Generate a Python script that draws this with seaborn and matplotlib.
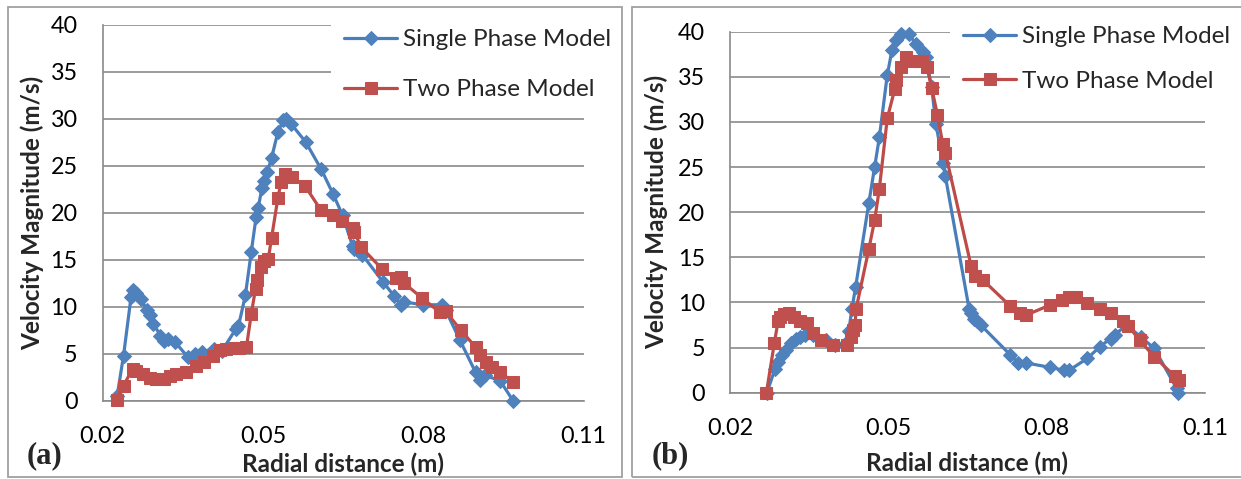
import numpy as np
import pandas as pd
import matplotlib
matplotlib.use("Agg")
import matplotlib.pyplot as plt
from matplotlib.patches import Rectangle
import seaborn as sns

# ---------------- data ----------------
a_single_x = [0.0227, 0.0239, 0.0253, 0.0257, 0.0262, 0.0272, 0.0283, 0.0288, 0.0295, 0.0308,
              0.0315, 0.0322, 0.0336, 0.0360, 0.0373, 0.0386, 0.0408, 0.0423, 0.0449, 0.0454,
              0.0467, 0.0478, 0.0487, 0.0491, 0.0498, 0.0502, 0.0508, 0.0516, 0.0528, 0.0538,
              0.0543, 0.0553, 0.0580, 0.0609, 0.0631, 0.0649, 0.0668, 0.0670, 0.0686, 0.0725,
              0.0746, 0.0758, 0.0764, 0.0799, 0.0835, 0.0842, 0.0868, 0.0898, 0.0907, 0.0916,
              0.0944, 0.0968]
a_single_y = [0.5, 4.8, 11.0, 11.8, 11.5, 10.8, 9.6, 9.1, 8.2, 6.9,
              6.4, 6.6, 6.2, 4.6, 5.0, 5.2, 5.5, 5.3, 7.6, 7.9,
              11.2, 15.8, 19.5, 20.5, 22.6, 23.4, 24.3, 25.8, 28.6, 29.8,
              30.0, 29.4, 27.5, 24.6, 22.0, 19.7, 16.4, 16.1, 15.5, 12.6,
              11.1, 10.2, 10.5, 10.2, 10.2, 9.6, 6.5, 3.0, 2.2, 2.7,
              2.1, 0.0]
a_two_x = [0.0227, 0.0239, 0.0256, 0.0263, 0.0276, 0.0288, 0.0300, 0.0314, 0.0326, 0.0337,
           0.0356, 0.0374, 0.0389, 0.0406, 0.0419, 0.0430, 0.0447, 0.0456, 0.0469, 0.0478,
           0.0486, 0.0489, 0.0497, 0.0502, 0.0510, 0.0516, 0.0528, 0.0534, 0.0542, 0.0554,
           0.0579, 0.0608, 0.0631, 0.0647, 0.0668, 0.0671, 0.0684, 0.0723, 0.0749, 0.0758,
           0.0764, 0.0798, 0.0831, 0.0842, 0.0870, 0.0898, 0.0907, 0.0917, 0.0928, 0.0944,
           0.0968]
a_two_y = [0.1, 1.6, 3.4, 3.2, 2.8, 2.4, 2.3, 2.3, 2.6, 2.8,
           3.1, 3.7, 4.1, 4.7, 5.4, 5.5, 5.6, 5.6, 5.7, 9.2,
           11.9, 12.8, 14.2, 14.9, 15.1, 17.3, 21.6, 23.3, 24.1, 23.8,
           22.8, 20.3, 19.7, 19.1, 18.4, 17.9, 16.3, 14.0, 13.0, 13.1,
           12.5, 10.9, 9.4, 9.5, 7.5, 5.7, 4.9, 4.1, 3.6, 3.0,
           2.0]

b_single_x = [0.0270, 0.0285, 0.0291, 0.0299, 0.0306, 0.0315, 0.0325, 0.0332, 0.0343, 0.0358,
              0.0381, 0.0399, 0.0419, 0.0425, 0.0431, 0.0438, 0.0463, 0.0474, 0.0483, 0.0498,
              0.0507, 0.0515, 0.0524, 0.0540, 0.0552, 0.0566, 0.0571, 0.0582, 0.0590, 0.0604,
              0.0608, 0.0653, 0.0657, 0.0662, 0.0668, 0.0675, 0.0731, 0.0746, 0.0761, 0.0807,
              0.0832, 0.0843, 0.0877, 0.0901, 0.0921, 0.0929, 0.0951, 0.0978, 0.1004, 0.1046,
              0.1048]
b_single_y = [0.0, 2.6, 3.4, 4.2, 4.7, 5.5, 6.0, 6.2, 6.4, 6.4,
              5.8, 5.3, 5.5, 6.8, 9.3, 11.7, 21.0, 25.0, 28.3, 35.2,
              38.0, 39.1, 39.8, 39.7, 38.6, 37.7, 37.2, 33.9, 29.8, 25.4,
              24.0, 9.3, 8.8, 8.2, 7.9, 7.5, 4.2, 3.3, 3.3, 2.8,
              2.5, 2.5, 3.8, 5.1, 6.0, 6.4, 7.5, 6.2, 4.9, 0.5,
              0.0]
b_two_x = [0.0269, 0.0284, 0.0291, 0.0295, 0.0302, 0.0312, 0.0321, 0.0332, 0.0345, 0.0358,
           0.0373, 0.0396, 0.0422, 0.0430, 0.0433, 0.0437, 0.0439, 0.0463, 0.0474, 0.0483,
           0.0498, 0.0512, 0.0515, 0.0524, 0.0534, 0.0549, 0.0563, 0.0573, 0.0582, 0.0593,
           0.0603, 0.0608, 0.0657, 0.0664, 0.0679, 0.0731, 0.0750, 0.0761, 0.0806, 0.0829,
           0.0843, 0.0855, 0.0877, 0.0901, 0.0921, 0.0944, 0.0955, 0.0976, 0.1004, 0.1043,
           0.1051]
b_two_y = [0.0, 5.5, 7.9, 8.4, 8.7, 8.8, 8.4, 8.0, 7.7, 6.6,
           5.8, 5.3, 5.3, 6.2, 6.9, 7.5, 9.3, 15.9, 19.1, 22.6,
           30.4, 33.6, 34.6, 36.1, 37.2, 36.8, 36.7, 36.1, 33.8, 30.8,
           27.6, 26.6, 14.0, 12.9, 12.5, 9.6, 8.8, 8.6, 9.7, 10.3,
           10.6, 10.6, 9.9, 9.3, 8.8, 8.0, 7.4, 5.8, 4.0, 1.8,
           1.4]

series_names = ["Single Phase Model", "Two Phase Model"]
x_ticks = [0.02, 0.05, 0.08, 0.11]
x_ticklabels = ["0.02", "0.05", "0.08", "0.11"]
y_ticks = [0, 5, 10, 15, 20, 25, 30, 35, 40]
x_title = "Radial distance (m)"
y_title = "Velocity Magnitude (m/s)"
panel_labels = ["(a)", "(b)"]

# ---------------- style ----------------
sns.set_style("white")
plt.rcParams["font.family"] = ["Lato", "DejaVu Sans"]

W, H = 1241, 479
fig = plt.figure(figsize=(W / 100, H / 100), dpi=100)

GRID = "#8a8a8a"
BLUE_L, BLUE_M = "#4A7EBB", "#4F81BD"
RED_L, RED_M = "#BE4B48", "#C0504D"
LEG_FS = 17.5

def px_rect(x0, y0_top, x1, y1_top):
    return [x0 / W, 1 - y1_top / H, (x1 - x0) / W, (y1_top - y0_top) / H]

# panel frames
fig.add_artist(Rectangle((8 / W, 2 / H), 614 / W, 470 / H, transform=fig.transFigure,
                         fill=False, edgecolor="#a0a0a0", lw=1.3))
fig.add_artist(Rectangle((632 / W, 2 / H), 640 / W, 470 / H, transform=fig.transFigure,
                         fill=False, edgecolor="#a0a0a0", lw=1.3))

axes_specs = [
    dict(rect=px_rect(102.7, 24.5, 583.6, 400.7), data=(a_single_x, a_single_y, a_two_x, a_two_y),
         leg=(331, 16, 1.18), ylab_x=-0.122, xlab_y=-0.138, panel=(45, 456)),
    dict(rect=px_rect(730, 31.7, 1205, 392.7), data=(b_single_x, b_single_y, b_two_x, b_two_y),
         leg=(950, 12.7, 0.98), ylab_x=-0.13, xlab_y=-0.162, panel=(670, 456)),
]

for i, spec in enumerate(axes_specs):
    ax = fig.add_axes(spec["rect"])
    sx, sy, tx, ty = spec["data"]
    df_s = pd.DataFrame({"x": sx, "y": sy})
    df_t = pd.DataFrame({"x": tx, "y": ty})
    sns.lineplot(data=df_s, x="x", y="y", ax=ax, sort=False, estimator=None,
                 color=BLUE_L, lw=2.3, marker="D", markersize=7.2,
                 markerfacecolor=BLUE_M, markeredgecolor=BLUE_M,
                 label=series_names[0], clip_on=False, zorder=3)
    sns.lineplot(data=df_t, x="x", y="y", ax=ax, sort=False, estimator=None,
                 color=RED_L, lw=2.3, marker="s", markersize=8.6,
                 markerfacecolor=RED_M, markeredgecolor=RED_M,
                 label=series_names[1], clip_on=False, zorder=4)

    ax.set_xlim(0.02, 0.11)
    ax.set_ylim(0, 40)
    ax.set_xticks(x_ticks)
    ax.set_xticklabels(x_ticklabels)
    ax.set_yticks(y_ticks)
    ax.grid(axis="y", color=GRID, lw=1.2)
    ax.grid(axis="x", visible=False)
    for s in ["top", "right"]:
        ax.spines[s].set_visible(False)
    for s in ["left", "bottom"]:
        ax.spines[s].set_color(GRID)
        ax.spines[s].set_linewidth(1.2)
    ax.tick_params(axis="both", direction="out", length=6, width=1.2, color=GRID,
                   labelsize=16.8, labelcolor="black")
    ax.tick_params(axis="y", pad=12)
    ax.tick_params(axis="x", pad=12)
    ax.set_axisbelow(True)

    ax.set_xlabel(x_title, fontsize=17.5, fontweight="bold")
    ax.set_ylabel(y_title, fontsize=17.5, fontweight="bold")
    ax.yaxis.set_label_coords(spec["ylab_x"], 0.5)
    ax.xaxis.set_label_coords(0.5, spec["xlab_y"])

    lx, ly, lsp = spec["leg"]
    leg = ax.legend(loc="upper left", bbox_to_anchor=(lx / W, 1 - ly / H),
                    bbox_transform=fig.transFigure, borderaxespad=0,
                    frameon=True, facecolor="white", edgecolor="none", framealpha=1,
                    fontsize=LEG_FS, handlelength=2.18, handletextpad=0.25,
                    labelspacing=lsp, borderpad=0.55, markerscale=1.0)
    leg.set_zorder(10)

    px_, py_ = spec["panel"]
    fig.text(px_ / W, 1 - py_ / H, panel_labels[i], ha="center", va="center",
             fontsize=22, fontweight="bold", family=["Liberation Serif", "DejaVu Serif"])

fig.savefig("out.png", dpi=100)
